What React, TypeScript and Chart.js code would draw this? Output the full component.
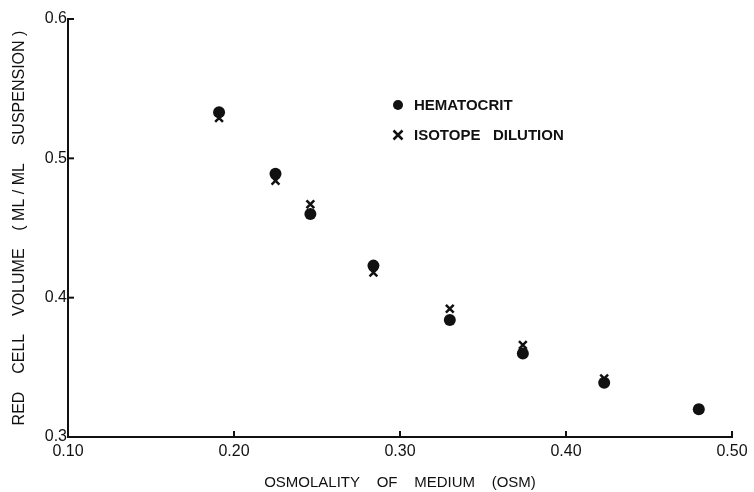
import React, { useEffect, useRef } from "react";
import { Chart, registerables } from "chart.js";

Chart.register(...registerables);

const osmolality = [0.191, 0.225, 0.246, 0.284, 0.33, 0.374, 0.423, 0.48];
const hematocrit = [0.533, 0.489, 0.46, 0.423, 0.384, 0.36, 0.339, 0.32];
const isotopeDilution = [0.529, 0.484, 0.467, 0.418, 0.392, 0.366, 0.342, 0.32];
const seriesLabels = ["HEMATOCRIT", "ISOTOPE   DILUTION"];
const xTitle = "OSMOLALITY    OF    MEDIUM    (OSM)";
const yTitle = "RED    CELL    VOLUME    ( ML / ML    SUSPENSION )";

const FONT = "'Liberation Sans', Arial, sans-serif";
const INK = "#111";

const inwardTicks = {
  id: "inwardTicks",
  afterDraw(chart: any) {
    const { ctx, chartArea } = chart;
    const xs = chart.scales.x;
    const ys = chart.scales.y;
    ctx.save();
    ctx.strokeStyle = INK;
    ctx.lineWidth = 2;
    xs.ticks.forEach((t: any, i: number) => {
      if (i === 0) return;
      const px = xs.getPixelForValue(t.value);
      ctx.beginPath();
      ctx.moveTo(px, chartArea.bottom);
      ctx.lineTo(px, chartArea.bottom - 6);
      ctx.stroke();
    });
    ys.ticks.forEach((t: any, i: number) => {
      if (i === 0) return;
      const py = ys.getPixelForValue(t.value);
      ctx.beginPath();
      ctx.moveTo(chartArea.left, py);
      ctx.lineTo(chartArea.left + 6, py);
      ctx.stroke();
    });
    ctx.restore();
  },
};

const innerLegend = {
  id: "innerLegend",
  afterDraw(chart: any) {
    const { ctx } = chart;
    ctx.save();
    const x0 = 398;
    const rows = [105, 135];
    ctx.fillStyle = INK;
    ctx.strokeStyle = INK;
    ctx.font = `bold 15px ${FONT}`;
    ctx.textBaseline = "middle";
    chart.data.datasets.forEach((ds: any, i: number) => {
      const y = rows[i];
      if (ds.pointStyle === "circle") {
        ctx.beginPath();
        ctx.arc(x0, y, 5, 0, Math.PI * 2);
        ctx.fill();
      } else {
        ctx.lineWidth = 2.5;
        ctx.beginPath();
        ctx.moveTo(x0 - 4.5, y - 4.5);
        ctx.lineTo(x0 + 4.5, y + 4.5);
        ctx.moveTo(x0 + 4.5, y - 4.5);
        ctx.lineTo(x0 - 4.5, y + 4.5);
        ctx.stroke();
      }
      ctx.fillText(ds.label, x0 + 16, y + 1);
    });
    ctx.restore();
  },
};

export default function App() {
  const ref = useRef<HTMLCanvasElement | null>(null);
  useEffect(() => {
    if (!ref.current) return;
    const chart = new Chart(ref.current, {
      type: "scatter",
      data: {
        datasets: [
          {
            label: seriesLabels[0],
            data: osmolality.map((x, i) => ({ x, y: hematocrit[i] })),
            pointStyle: "circle",
            pointRadius: 6,
            backgroundColor: INK,
            borderColor: INK,
            borderWidth: 0,
          },
          {
            label: seriesLabels[1],
            data: osmolality.map((x, i) => ({ x, y: isotopeDilution[i] })),
            pointStyle: "crossRot",
            pointRadius: 5.5,
            backgroundColor: INK,
            borderColor: INK,
            borderWidth: 2.5,
          },
        ],
      },
      options: {
        animation: false,
        responsive: true,
        maintainAspectRatio: false,
        layout: { padding: { left: 0, right: 22, top: 19, bottom: 0 } },
        plugins: { legend: { display: false }, tooltip: { enabled: false } },
        scales: {
          x: {
            type: "linear",
            min: 0.1,
            max: 0.5,
            afterFit: (s: any) => {
              s.height = 55;
            },
            ticks: {
              stepSize: 0.1,
              color: INK,
              padding: 5,
              font: { family: FONT, size: 16 },
              callback: (v: any) => Number(v).toFixed(2),
            },
            grid: { display: true, drawOnChartArea: false, drawTicks: false },
            border: { display: true, color: INK, width: 2 },
            title: {
              display: true,
              text: xTitle,
              color: INK,
              font: { family: FONT, size: 15 },
              padding: { top: 2, bottom: 0 },
            },
          },
          y: {
            type: "linear",
            min: 0.3,
            max: 0.6,
            afterFit: (s: any) => {
              s.width = 68;
            },
            ticks: {
              stepSize: 0.1,
              color: INK,
              padding: 1,
              font: { family: FONT, size: 16 },
              callback: (v: any) => Number(v).toFixed(1),
            },
            grid: { display: true, drawOnChartArea: false, drawTicks: false },
            border: { display: true, color: INK, width: 2 },
            title: {
              display: true,
              text: yTitle,
              color: INK,
              font: { family: FONT, size: 16 },
              padding: { top: 10, bottom: 0 },
            },
          },
        },
      },
      plugins: [inwardTicks, innerLegend],
    } as any);
    return () => chart.destroy();
  }, []);
  return (
    <div style={{ position: "absolute", left: 0, top: 0, width: 754, height: 492, background: "#fff" }}>
      <canvas ref={ref} />
    </div>
  );
}
